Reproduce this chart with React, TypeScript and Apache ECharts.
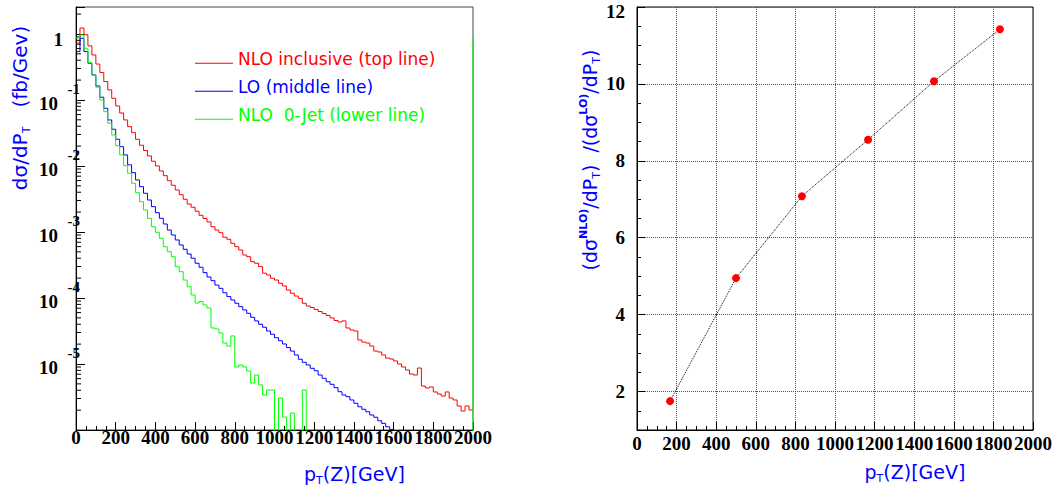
import React, { useEffect, useRef } from 'react';
import * as echarts from 'echarts';

// ---------- data ----------
const BIN_WIDTH = 20; // GeV
const binEdges: number[] = Array.from({ length: 100 }, (_, i) => i * BIN_WIDTH);
const X_END = 2000;

// d sigma / d pT (fb/GeV), one value per 20 GeV bin (0 = empty bin)
const nloInclusive: number[] = [
  0.73, 1.23, 0.97, 0.66, 0.48, 0.35, 0.26, 0.19, 0.142, 0.106,
  0.0811, 0.0635, 0.0498, 0.0394, 0.032, 0.0254, 0.0206, 0.0171, 0.0142, 0.0118,
  0.01, 0.0084, 0.00713, 0.00598, 0.0051, 0.00433, 0.00367, 0.00313, 0.00265, 0.00237,
  0.00206, 0.00179, 0.0016, 0.00142, 0.0012, 0.00107, 0.000975, 0.000832, 0.000775, 0.000674,
  0.000598, 0.000533, 0.000448, 0.000422, 0.000355, 0.000336, 0.000298, 0.000237, 0.000223, 0.000199,
  0.000187, 0.000167, 0.000152, 0.000132, 0.000118, 0.000107, 0.0000989, 0.0000831, 0.0000757, 0.0000718,
  0.000067, 0.0000624, 0.0000582, 0.0000543, 0.0000498, 0.0000456, 0.0000433, 0.0000449, 0.0000351, 0.0000327,
  0.0000316, 0.0000231, 0.0000215, 0.0000208, 0.0000187, 0.0000157, 0.0000152, 0.0000137, 0.0000123, 0.0000119,
  0.0000111, 0.00001, 0.00000901, 0.00000811, 0.00000705, 0.00000681, 0.00000869, 0.00000464, 0.00000433, 0.00000449,
  0.00000377, 0.00000351, 0.00000327, 0.00000377, 0.00000305, 0.00000285, 0.00000231, 0.00000194, 0.00000231, 0.00000201,
];

const loValues: number[] = [
  0.54, 0.86, 0.54, 0.36, 0.239, 0.163, 0.11, 0.0748, 0.0498, 0.036,
  0.0254, 0.0196, 0.0147, 0.0104, 0.00791, 0.00614, 0.00486, 0.00386, 0.00305, 0.00242,
  0.00196, 0.00161, 0.00132, 0.00107, 0.000901, 0.000757, 0.000635, 0.000547, 0.000464, 0.0004,
  0.000336, 0.000292, 0.000242, 0.000208, 0.000183, 0.000157, 0.00014, 0.00012, 0.000105, 0.0000933,
  0.0000831, 0.0000738, 0.0000658, 0.0000586, 0.000051, 0.0000449, 0.00004, 0.000036, 0.0000316, 0.0000282,
  0.000025, 0.0000225, 0.0000201, 0.0000177, 0.0000157, 0.0000137, 0.0000118, 0.0000106, 0.00000966, 0.00000861,
  0.00000791, 0.00000681, 0.00000607, 0.00000539, 0.00000492, 0.00000438, 0.0000038, 0.00000339, 0.0000032, 0.00000285,
  0.00000254, 0.00000225, 0.00000206, 0.00000189, 0.00000169, 0.00000156, 0.00000138, 0.00000126, 0.00000112, 0.00000102,
  0, 0, 0, 0, 0, 0, 0, 0, 0, 0,
  0, 0, 0, 0, 0, 0, 0, 0, 0, 0,
];

const nlo0Jet: number[] = [
  0.87, 0.966, 0.607, 0.367, 0.239, 0.156, 0.1, 0.0665, 0.0444, 0.0295,
  0.0203, 0.0147, 0.0101, 0.00775, 0.00547, 0.00394, 0.00288, 0.00215, 0.00161, 0.0012,
  0.000989, 0.000803, 0.000598, 0.000503, 0.000422, 0.000298, 0.00025, 0.000187, 0.000148, 0.000111,
  0.0000839, 0.0000885, 0.0000783, 0.0000705, 0.0000351, 0.0000339, 0.0000295, 0.0000208, 0.0000187, 0.0000266,
  0.00000901, 0.00000966, 0.00000901, 0.00000783, 0.00000515, 0.00000681, 0.00000481, 0.00000339, 0.00000403, 0.00000403,
  0, 0.00000305, 0.00000157, 0, 0.00000181, 0, 0, 0.00000403, 0, 0,
  0, 0, 0, 0, 0, 0, 0, 0, 0, 0,
  0, 0, 0, 0, 0, 0, 0, 0, 0, 0,
  0, 0, 0, 0, 0, 0, 0, 0, 0, 0,
  0, 0, 0, 0, 0, 0, 0, 0, 0, 0,
];
const nlo0JetEdgeValue = 0.9; // closing line drawn at pT = 2000

// ratio (dσNLO/dpT)/(dσLO/dpT)
const ratioPt: number[] = [167, 500, 833, 1167, 1500, 1833];
const ratioValues: number[] = [1.75, 4.95, 7.08, 8.55, 10.07, 11.42];

const seriesNames = ['NLO inclusive (top line)', 'LO (middle line)', 'NLO  0-Jet (lower line)'];
const seriesColors = ['#ff0000', '#0000ff', '#00ff00'];

const Y_LOG_MIN = 1e-6;
const Y_LOG_MAX = 2.56;
const EMPTY_FLOOR = 1e-7; // empty bins drawn at the frame bottom (clipped)

// ---------- helpers ----------
const histData = (vals: number[], closing?: number) => {
  const d: number[][] = vals.map((v, i) => [binEdges[i], v > 0 ? v : EMPTY_FLOOR]);
  const last = vals[vals.length - 1];
  d.push([X_END, last > 0 ? last : EMPTY_FLOOR]);
  if (closing !== undefined) d.push([X_END, closing]);
  return d;
};

const logMinorTicks: number[] = [];
for (let e = -6; e <= 0; e++) {
  for (let m = 2; m <= 9; m++) {
    const v = m * Math.pow(10, e);
    if (v < Y_LOG_MAX) logMinorTicks.push(v);
  }
}

const TITLE_FONT = '"DejaVu Sans", sans-serif';
const LABEL_FONT = '"Liberation Serif", "Times New Roman", serif';
const BLUE = '#0000ff';

const subStyle = { fontFamily: TITLE_FONT, fontSize: 11, color: BLUE, verticalAlign: 'bottom', lineHeight: 14 };
const supStyle = { fontFamily: TITLE_FONT, fontSize: 11, fontWeight: 'bold', color: BLUE, verticalAlign: 'top', lineHeight: 12 };

const xName = 'p{s|T}(Z)[GeV]';
const boldLabel = { fontFamily: LABEL_FONT, fontWeight: 'bold', fontSize: 19, color: '#000' };

export default function App() {
  const ref = useRef<HTMLDivElement>(null);

  useEffect(() => {
    if (!ref.current) return;
    const chart = echarts.init(ref.current, undefined, { renderer: 'svg' });

    const axisBlack = { lineStyle: { color: '#000', width: 1 } };

    const option: any = {
      animation: false,
      backgroundColor: '#ffffff',
      grid: [
        { left: 76, top: 7, width: 397, height: 423, show: true, borderColor: '#444', borderWidth: 1, outerBoundsMode: 'none', containLabel: false },
        { left: 637, top: 7, width: 396, height: 423, show: true, borderColor: '#000', borderWidth: 1, outerBoundsMode: 'none', containLabel: false },
      ],
      legend: {
        show: true,
        left: 195,
        top: 50,
        padding: 0,
        orient: 'vertical',
        itemWidth: 38,
        itemHeight: 14,
        itemGap: 11,
        selectedMode: false,
        icon: 'path://M0,-10L0,-10Z M0,0H40V1H0Z',
        textStyle: { fontFamily: TITLE_FONT, fontSize: 17, lineHeight: 16 },
        data: seriesNames.map((n, i) => ({ name: n, textStyle: { color: seriesColors[i] } })),
      },
      xAxis: [
        {
          type: 'value', gridIndex: 0, min: 0, max: X_END, interval: 200,
          name: xName, nameLocation: 'middle', nameGap: 32,
          nameTextStyle: { color: BLUE, fontFamily: TITLE_FONT, fontSize: 19, lineHeight: 24, padding: [0, 0, 0, 160], rich: { s: subStyle } },
          axisLine: axisBlack,
          axisTick: { show: true, inside: true, length: 8, lineStyle: { color: '#000' } },
          minorTick: { show: true, splitNumber: 4, length: 4, lineStyle: { color: '#000' } },
          axisLabel: { ...boldLabel, margin: -2, showMaxLabel: true, showMinLabel: true, hideOverlap: false, formatter: (v: number) => String(v) },
          splitLine: { show: false },
        },
        {
          type: 'value', gridIndex: 1, min: 0, max: X_END, interval: 200,
          name: xName, nameLocation: 'middle', nameGap: 30,
          nameTextStyle: { color: BLUE, fontFamily: TITLE_FONT, fontSize: 19, lineHeight: 24, padding: [0, 0, 0, 160], rich: { s: subStyle } },
          axisLine: axisBlack,
          axisTick: { show: true, inside: true, length: 8, lineStyle: { color: '#000' } },
          minorTick: { show: true, splitNumber: 4, length: 4, lineStyle: { color: '#000' } },
          axisLabel: { ...boldLabel, margin: 4, showMaxLabel: true, showMinLabel: true, hideOverlap: false, formatter: (v: number) => String(v) },
          splitLine: { show: true, lineStyle: { color: '#555', type: 'dotted', width: 1 } },
        },
      ],
      yAxis: [
        {
          type: 'log', gridIndex: 0, logBase: 10, min: Y_LOG_MIN, max: Y_LOG_MAX, interval: 1,
          name: 'dσ/dP{s|T}   (fb/Gev)', nameLocation: 'middle', nameRotate: 90, nameGap: 44,
          nameTextStyle: { color: BLUE, fontFamily: TITLE_FONT, fontSize: 20, lineHeight: 24, padding: [0, 0, 0, 221], rich: { s: subStyle } },
          axisLine: { show: true, lineStyle: { color: '#000', width: 1 } },
          axisTick: { show: true, inside: true, length: 9, lineStyle: { color: '#000' } },
          minorTick: { show: false },
          splitLine: { show: false },
          axisLabel: {
            margin: -4,
            showMinLabel: false,
            hideOverlap: false,
            formatter: (v: number) => {
              const lg = Math.log10(v);
              const e = Math.round(lg);
              if (Math.abs(lg - e) > 1e-6) return '';
              if (e <= -6) return '';
              if (e === 0) return '{one|1}{p| }';
              return '{e|' + e + '}\n{b|10}{sp| }';
            },
            rich: {
              b: { fontFamily: LABEL_FONT, fontWeight: 'bold', fontSize: 19, lineHeight: 22, color: '#000' },
              one: { fontFamily: LABEL_FONT, fontWeight: 'bold', fontSize: 19, lineHeight: 22, padding: [12, 0, 0, 0], color: '#000' },
              e: { fontFamily: LABEL_FONT, fontWeight: 'bold', fontSize: 15, lineHeight: 8, align: 'right', color: '#000' },
              sp: { fontFamily: LABEL_FONT, fontSize: 19, width: 22, lineHeight: 22 },
              p: { fontFamily: LABEL_FONT, fontSize: 19, width: 17, lineHeight: 22 },
            },
          },
        },
        {
          type: 'value', gridIndex: 1, min: 1, max: 12, splitNumber: 5,
          name: '(dσ{u|NLO)}/dP{s|T})  /(dσ{u|LO)}/dP{s|T})', nameLocation: 'middle', nameRotate: 90, nameGap: 34,
          nameTextStyle: { color: BLUE, fontFamily: TITLE_FONT, fontSize: 19, lineHeight: 24, padding: [0, 0, 0, 117], rich: { s: subStyle, u: supStyle } },
          axisLine: axisBlack,
          axisTick: { show: true, inside: true, length: 8, lineStyle: { color: '#000' } },
          minorTick: { show: true, splitNumber: 4, length: 4, lineStyle: { color: '#000' } },
          axisLabel: {
            ...boldLabel,
            margin: 12,
            showMaxLabel: true,
            hideOverlap: false,
            formatter: (v: number) => {
              if (Math.abs(v % 2) > 1e-9) return '';
              if (v >= 12) return '{t|' + v + '}';
              return String(v);
            },
            rich: {
              t: { ...boldLabel, padding: [8, 0, 0, 0] },
            },
          },
          splitLine: { show: true, lineStyle: { color: '#555', type: 'dotted', width: 1 } },
        },
      ],
      series: [
        ...[nloInclusive, loValues, nlo0Jet].map((vals, i) => ({
          name: seriesNames[i],
          type: 'line',
          xAxisIndex: 0,
          yAxisIndex: 0,
          step: 'end',
          showSymbol: false,
          symbol: 'none',
          clip: true,
          color: seriesColors[i],
          lineStyle: { color: seriesColors[i], width: 1 },
          data: histData(vals, i === 2 ? nlo0JetEdgeValue : undefined),
          z: 3 + i,
        })),
        {
          name: 'log minor ticks',
          type: 'custom',
          xAxisIndex: 0,
          yAxisIndex: 0,
          silent: true,
          data: logMinorTicks.map((v) => [0, v]),
          renderItem: (_p: any, api: any) => {
            const pt = api.coord([0, api.value(1)]);
            return {
              type: 'line',
              shape: { x1: pt[0], y1: pt[1], x2: pt[0] + 5, y2: pt[1] },
              style: { stroke: '#000', lineWidth: 1 },
            };
          },
        },
        {
          name: 'ratio',
          type: 'line',
          xAxisIndex: 1,
          yAxisIndex: 1,
          data: ratioPt.map((x, i) => [x, ratioValues[i]]),
          symbol: 'circle',
          symbolSize: 8,
          showSymbol: true,
          itemStyle: { color: '#ff0000' },
          lineStyle: { color: '#000', width: 1, type: 'dotted' },
          z: 5,
        },
      ],
    };

    chart.setOption(option);
    return () => chart.dispose();
  }, []);

  return (
    <div
      ref={ref}
      style={{ position: 'absolute', left: 0, top: 0, width: 1056, height: 486, background: '#fff' }}
    />
  );
}
